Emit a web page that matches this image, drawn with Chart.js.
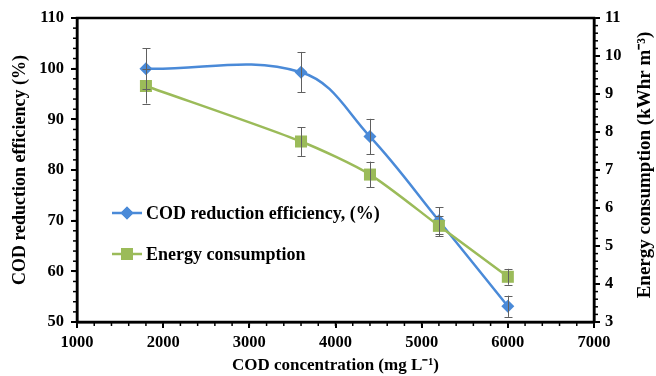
<!DOCTYPE html>
<html>
<head>
<meta charset="utf-8">
<script src="https://cdn.jsdelivr.net/npm/chart.js@4.4.0/dist/chart.umd.min.js"></script>
<style>
  html, body { margin: 0; padding: 0; background: #fff; }
  #wrap { width: 656px; height: 376px; position: relative; }
</style>
</head>
<body>
<div id="wrap"><canvas id="c" width="656" height="376"></canvas></div>
<script>
// ---- data ----
const codConcentration = [1800, 3600, 4400, 5200, 6000];
const codReduction = [100, 99.3, 86.6, 70.0, 53.1];
const codReductionErr = [4.0, 4.0, 3.5, 2.6, 2.1];
const energyConsumption = [9.21, 7.75, 6.88, 5.53, 4.19];
const energyErr = [0.46, 0.38, 0.34, 0.27, 0.21];
const xTicks = [1000, 2000, 3000, 4000, 5000, 6000, 7000];
const leftTicks = [50, 60, 70, 80, 90, 100, 110];
const rightTicks = [3, 4, 5, 6, 7, 8, 9, 10, 11];
const seriesNames = ['COD reduction efficiency, (%)', 'Energy consumption'];
const rightTitle = 'Energy consumption (kWhr m⁻³)';

const BLUE = '#4A8AD8';
const GREEN = '#9BBB59';
const FONT = 'Liberation Serif';
const tickFont = { family: FONT, size: 16.5, weight: 'bold' };

const errorBars = [codReductionErr, energyErr];

const framePlugin = {
  id: 'frame',
  beforeDatasetsDraw(chart) {
    const { ctx, chartArea: a, scales } = chart;
    ctx.save();
    ctx.strokeStyle = '#000';
    ctx.lineWidth = 1.5;
    const minor = (scale, step, dir) => {
      for (let v = scale.min; v <= scale.max + 1e-9; v += step) {
        const p = scale.getPixelForValue(v);
        ctx.beginPath();
        if (dir === 'x') { ctx.moveTo(p, a.bottom); ctx.lineTo(p, a.bottom + 4); }
        else if (dir === 'l') { ctx.moveTo(a.left, p); ctx.lineTo(a.left - 4, p); }
        else { ctx.moveTo(a.right, p); ctx.lineTo(a.right + 4, p); }
        ctx.stroke();
      }
    };
    minor(scales.x, 200, 'x');
    minor(scales.y, 2, 'l');
    minor(scales.y2, 0.2, 'r');
    ctx.lineWidth = 2.5;
    ctx.strokeRect(a.left, a.top, a.right - a.left, a.bottom - a.top);
    ctx.restore();
  },
  afterDatasetsDraw(chart) {
    const { ctx } = chart;
    ctx.save();
    ctx.strokeStyle = '#606060';
    ctx.lineWidth = 1;
    chart.data.datasets.forEach((ds, i) => {
      const ys = chart.scales[ds.yAxisID];
      const xs = chart.scales.x;
      const errs = errorBars[i];
      ds.data.forEach((pt, j) => {
        const x = Math.round(xs.getPixelForValue(pt.x)) + 0.5;
        const y1 = ys.getPixelForValue(pt.y + errs[j]);
        const y2 = ys.getPixelForValue(pt.y - errs[j]);
        ctx.beginPath();
        ctx.moveTo(x, y1); ctx.lineTo(x, y2);
        ctx.moveTo(x - 4, Math.round(y1) + 0.5); ctx.lineTo(x + 4, Math.round(y1) + 0.5);
        ctx.moveTo(x - 4, Math.round(y2) + 0.5); ctx.lineTo(x + 4, Math.round(y2) + 0.5);
        ctx.stroke();
      });
    });
    ctx.restore();
  },
  afterDraw(chart) {
    const { ctx, chartArea: a } = chart;
    ctx.save();
    const entries = [
      { color: BLUE, style: 'rectRot', r: 6.5, name: seriesNames[0], dy: 195 },
      { color: GREEN, style: 'rect', r: 8.5, name: seriesNames[1], dy: 236 }
    ];
    entries.forEach(e => {
      const y = a.top + e.dy;
      const x0 = a.left + 35;
      ctx.strokeStyle = e.color;
      ctx.lineWidth = 2.5;
      ctx.beginPath(); ctx.moveTo(x0, y); ctx.lineTo(x0 + 30, y); ctx.stroke();
      ctx.fillStyle = e.color;
      Chart.helpers.drawPoint(ctx, { pointStyle: e.style, radius: e.r, rotation: 0, borderWidth: 0 }, x0 + 15, y);
      ctx.fill();
      ctx.fillStyle = '#000';
      ctx.font = 'bold 18px "' + FONT + '"';
      ctx.textBaseline = 'middle';
      ctx.textAlign = 'left';
      ctx.fillText(e.name, x0 + 34, y + 1);
    });
    // right axis title, reading bottom-to-top
    ctx.translate(chart.width - 11, (a.top + a.bottom) / 2 - 5);
    ctx.rotate(-Math.PI / 2);
    ctx.font = 'bold 19px "' + FONT + '"';
    ctx.textAlign = 'center';
    ctx.textBaseline = 'middle';
    ctx.fillStyle = '#000';
    ctx.fillText(rightTitle, 0, 0);
    ctx.restore();
  }
};

new Chart(document.getElementById('c'), {
  type: 'line',
  data: {
    datasets: [
      {
        label: seriesNames[0],
        data: codConcentration.map((x, i) => ({ x, y: codReduction[i] })),
        yAxisID: 'y',
        borderColor: BLUE,
        backgroundColor: BLUE,
        borderWidth: 2.5,
        tension: 0.38,
        pointStyle: 'rectRot',
        pointRadius: 6.5,
        pointBorderWidth: 0,
        order: 2
      },
      {
        label: seriesNames[1],
        data: codConcentration.map((x, i) => ({ x, y: energyConsumption[i] })),
        yAxisID: 'y2',
        borderColor: GREEN,
        backgroundColor: GREEN,
        borderWidth: 2.5,
        tension: 0.25,
        pointStyle: 'rect',
        pointRadius: 8.5,
        pointBorderWidth: 0,
        order: 1
      }
    ]
  },
  options: {
    responsive: false,
    animation: false,
    devicePixelRatio: 1,
    layout: { padding: { top: 18, left: 0, right: 0, bottom: 0 } },
    plugins: { legend: { display: false }, tooltip: { enabled: false } },
    scales: {
      x: {
        type: 'linear',
        min: 1000, max: 7000,
        afterFit(s) { s.height = 54; },
        afterBuildTicks(s) { s.ticks = xTicks.map(v => ({ value: v })); },
        ticks: { font: tickFont, color: '#000', padding: 5, maxRotation: 0, callback: v => String(v) },
        grid: { drawOnChartArea: false, drawTicks: true, tickLength: 6, color: '#000', lineWidth: 2 },
        border: { display: true, color: '#000', width: 2.5 },
        title: { display: true, text: 'COD concentration (mg L⁻¹)', font: { family: FONT, size: 17, weight: 'bold' }, color: '#000', padding: { top: 0, bottom: 0 } }
      },
      y: {
        type: 'linear', position: 'left',
        min: 50, max: 110,
        afterFit(s) { s.width = 77; },
        afterBuildTicks(s) { s.ticks = leftTicks.map(v => ({ value: v })); },
        ticks: { font: tickFont, color: '#000', padding: 7, callback: v => String(v) },
        grid: { drawOnChartArea: false, drawTicks: true, tickLength: 6, color: '#000', lineWidth: 2 },
        border: { display: true, color: '#000', width: 2.5 },
        title: { display: true, text: 'COD reduction efficiency (%)', font: { family: FONT, size: 18, weight: 'bold' }, color: '#000', padding: { top: 10, bottom: 0 } }
      },
      y2: {
        type: 'linear', position: 'right',
        min: 3, max: 11,
        afterFit(s) { s.width = 62; },
        afterBuildTicks(s) { s.ticks = rightTicks.map(v => ({ value: v })); },
        ticks: { font: tickFont, color: '#000', padding: 5, callback: v => String(v) },
        grid: { drawOnChartArea: false, drawTicks: true, tickLength: 6, color: '#000', lineWidth: 2 },
        border: { display: true, color: '#000', width: 2.5 },
        title: { display: false }
      }
    }
  },
  plugins: [framePlugin]
});
</script>
</body>
</html>
